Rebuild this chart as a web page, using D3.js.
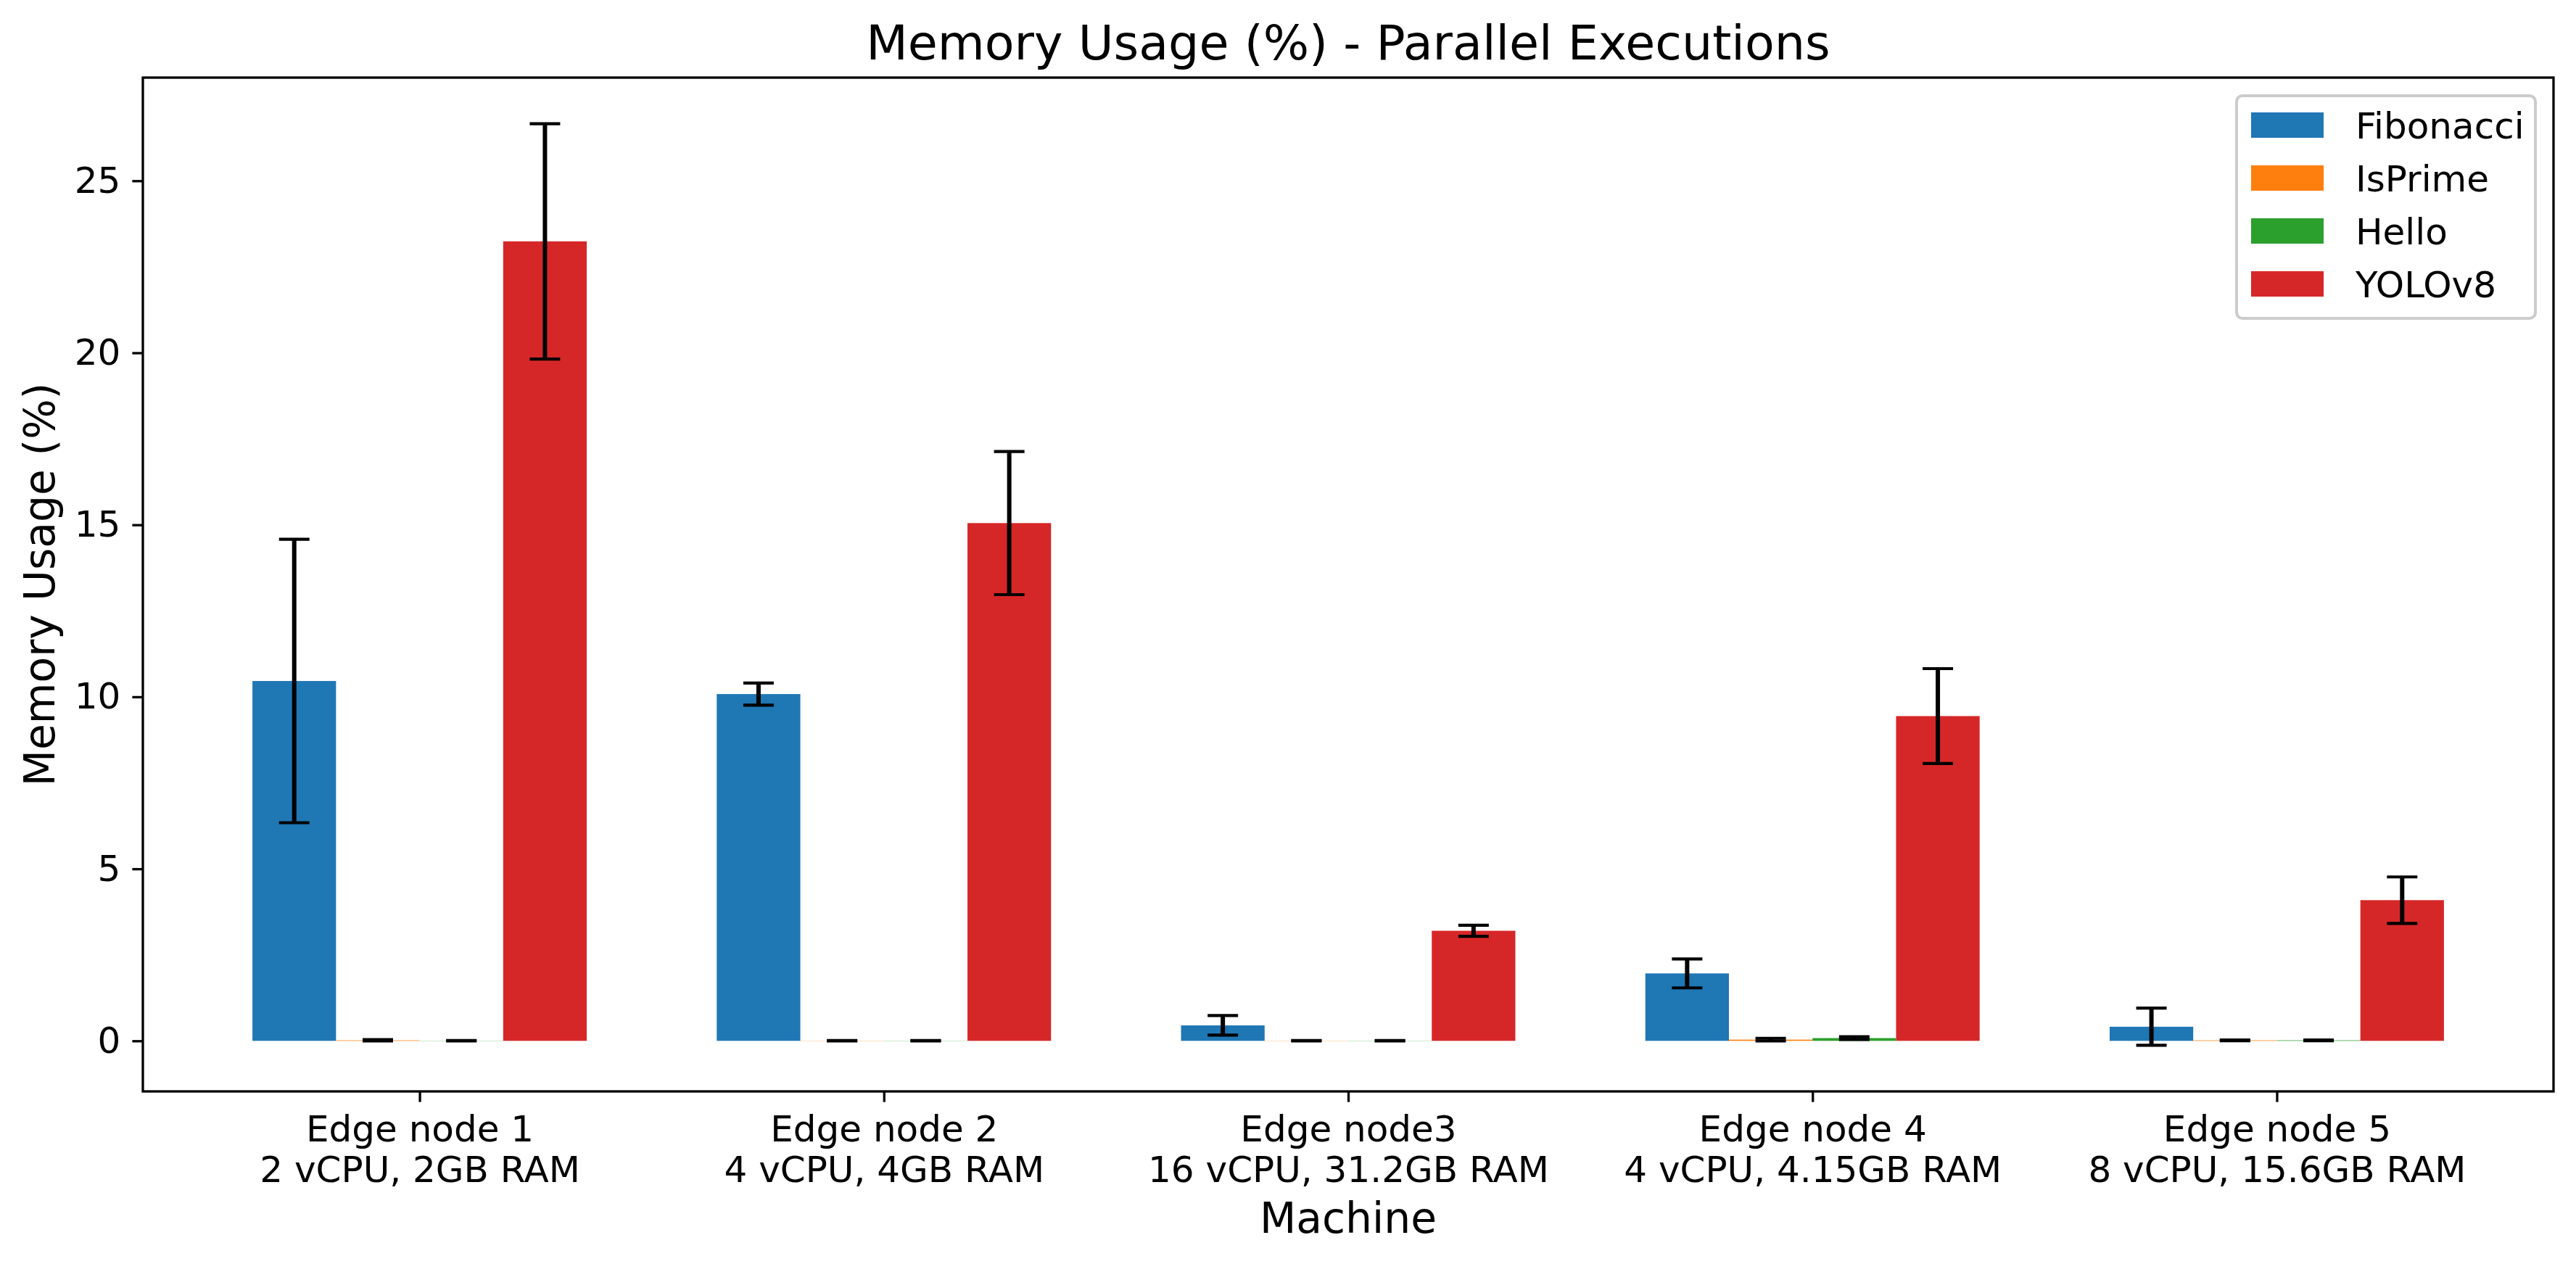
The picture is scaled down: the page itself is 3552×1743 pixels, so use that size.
<!DOCTYPE html>
<html>
<head>
<meta charset="utf-8">
<script src="https://cdn.jsdelivr.net/npm/d3@7/dist/d3.min.js"></script>
<style>
  body { margin: 0; background: #ffffff; }
  text { font-family: "DejaVu Sans", sans-serif; fill: #000000; }
</style>
</head>
<body>
<svg id="chart"></svg>
<script>
            // Machines (two line tick labels)
            var machines = ["Edge node 1", "Edge node 2", "Edge node3", "Edge node 4", "Edge node 5"];
            var specs = ["2 vCPU, 2GB RAM", "4 vCPU, 4GB RAM", "16 vCPU, 31.2GB RAM", "4 vCPU, 4.15GB RAM", "8 vCPU, 15.6GB RAM"];

            // Series: mean memory usage (%) and std
            var seriesNames = ["Fibonacci", "IsPrime", "Hello", "YOLOv8"];
            var fibonacci    = [10.46, 10.08, 0.45, 1.96, 0.41];
            var fibonacciErr = [4.12, 0.32, 0.285, 0.42, 0.54];
            var isprime      = [0.015, 0.005, 0.005, 0.035, 0.015];
            var isprimeErr   = [0.02, 0.005, 0.005, 0.04, 0.01];
            var hello        = [0.005, 0.005, 0.005, 0.08, 0.015];
            var helloErr     = [0.005, 0.005, 0.005, 0.04, 0.01];
            var yolo         = [23.24, 15.05, 3.2, 9.44, 4.09];
            var yoloErr      = [3.42, 2.08, 0.16, 1.38, 0.675];
            var yTicks = [0, 5, 10, 15, 20, 25];

            var colors = ["#1f77b4", "#ff7f0e", "#2ca02c", "#d62728"];

            //Width and height, plot box
            var W = 3552, H = 1743;
            var pLeft = 197, pRight = 3521, pTop = 107, pBottom = 1505;
            var barW = 0.18;   // bar width in group units
            var tickLen = 14.6, lw = 3.3;

            var values = [fibonacci, isprime, hello, yolo];
            var errs = [fibonacciErr, isprimeErr, helloErr, yoloErr];

            // flat list of bars
            var bars = [];
            values.forEach(function(vals, s) {
                vals.forEach(function(v, i) {
                    bars.push({s: s, i: i, v: v, e: errs[s][i]});
                });
            });

            // Scales with matplotlib style 5% margins
            var xmin = -2 * barW, xmax = machines.length - 1 + 2 * barW;
            var xm = 0.05 * (xmax - xmin);
            var x = d3.scaleLinear().domain([xmin - xm, xmax + xm]).range([pLeft, pRight]);

            var ymax = d3.max(bars, function(d) { return d.v + d.e; });
            var ymin = Math.min(0, d3.min(bars, function(d) { return d.v - d.e; }));
            var ym = 0.05 * (ymax - ymin);
            var y = d3.scaleLinear().domain([ymin - ym, ymax + ym]).range([pBottom, pTop]);

            function cx(d) { return x(d.i + (d.s - 1.5) * barW); }

            var svg = d3.select("#chart")
                .attr("width", W)
                .attr("height", H);

            svg.append("rect")
                .attr("width", W)
                .attr("height", H)
                .attr("fill", "#ffffff");

            // Bars
            var bw = x(barW) - x(0);
            svg.append("g").selectAll("rect")
                .data(bars)
                .enter()
                .append("rect")
                .attr("x", function(d) { return cx(d) - bw / 2; })
                .attr("y", function(d) { return y(Math.max(0, d.v)); })
                .attr("width", bw)
                .attr("height", function(d) { return Math.abs(y(0) - y(d.v)); })
                .attr("fill", function(d) { return colors[d.s]; });

            // Error bars
            var eb = svg.append("g").selectAll("g")
                .data(bars)
                .enter()
                .append("g")
                .attr("stroke", "#000000");

            eb.append("line")
                .attr("x1", cx).attr("x2", cx)
                .attr("y1", function(d) { return y(d.v + d.e); })
                .attr("y2", function(d) { return y(d.v - d.e); })
                .attr("stroke-width", 6);

            [1, -1].forEach(function(sign) {
                eb.append("line")
                    .attr("x1", function(d) { return cx(d) - 21; })
                    .attr("x2", function(d) { return cx(d) + 21; })
                    .attr("y1", function(d) { return y(d.v + sign * d.e); })
                    .attr("y2", function(d) { return y(d.v + sign * d.e); })
                    .attr("stroke-width", 4.2);
            });

            // Axes
            var yAxis = svg.append("g")
                .attr("transform", "translate(" + pLeft + ",0)")
                .call(d3.axisLeft(y).tickValues(yTicks).tickSize(tickLen).tickPadding(16));

            var xAxis = svg.append("g")
                .attr("transform", "translate(0," + pBottom + ")")
                .call(d3.axisBottom(x).tickValues(d3.range(machines.length)).tickSize(tickLen).tickFormat(""));

            [yAxis, xAxis].forEach(function(a) {
                a.select(".domain").remove();
                a.selectAll(".tick line").attr("stroke-width", lw);
                a.selectAll("text").style("font-size", "50px").attr("font-family", null);
            });

            var lab = xAxis.selectAll(".tick text")
                .attr("y", 0)
                .attr("dy", null);
            lab.append("tspan")
                .attr("x", 0).attr("y", 69)
                .text(function(d) { return machines[d]; });
            lab.append("tspan")
                .attr("x", 0).attr("y", 125)
                .text(function(d) { return specs[d]; });

            // frame
            svg.append("rect")
                .attr("x", pLeft).attr("y", pTop)
                .attr("width", pRight - pLeft)
                .attr("height", pBottom - pTop)
                .attr("fill", "none")
                .attr("stroke", "#000000")
                .attr("stroke-width", lw);

            // Titles
            svg.append("text")
                .attr("x", (pLeft + pRight) / 2).attr("y", 82)
                .attr("text-anchor", "middle")
                .style("font-size", "66.7px")
                .text("Memory Usage (%) - Parallel Executions");

            svg.append("text")
                .attr("x", (pLeft + pRight) / 2).attr("y", 1700)
                .attr("text-anchor", "middle")
                .style("font-size", "58.3px")
                .text("Machine");

            svg.append("text")
                .attr("transform", "translate(75," + ((pTop + pBottom) / 2) + ") rotate(-90)")
                .attr("text-anchor", "middle")
                .style("font-size", "58.3px")
                .text("Memory Usage (%)");

            // Legend
            var legend = svg.append("g");
            legend.append("rect")
                .attr("x", 3084).attr("y", 132)
                .attr("width", 412).attr("height", 307)
                .attr("rx", 8)
                .attr("fill", "#ffffff")
                .attr("fill-opacity", 0.8)
                .attr("stroke", "#cccccc")
                .attr("stroke-width", 4);

            var items = legend.selectAll("g.item")
                .data(seriesNames)
                .enter()
                .append("g")
                .attr("class", "item")
                .attr("transform", function(d, i) { return "translate(0," + (172.5 + i * 73) + ")"; });

            items.append("rect")
                .attr("x", 3104).attr("y", -17.5)
                .attr("width", 100).attr("height", 35)
                .attr("fill", function(d, i) { return colors[i]; });

            items.append("text")
                .attr("x", 3248).attr("y", 18)
                .style("font-size", "50px")
                .text(function(d) { return d; });
</script>
</body>
</html>
